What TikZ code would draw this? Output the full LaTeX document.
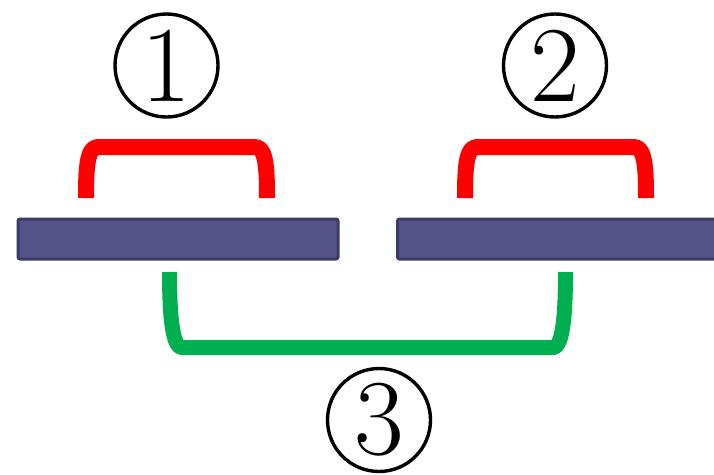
\documentclass[tikz,border=0pt]{standalone}
\begin{document}
\begin{tikzpicture}[x=1pt,y=-1pt,
  plate/.style={draw=plateedge,fill=platefill,line width=3pt,rounded corners=2pt,
    rectangle,minimum height=40pt,inner sep=0pt,anchor=north west},
  redlink/.style={draw=linkred,line width=16pt,line join=round},
  greenlink/.style={draw=linkgreen,line width=15pt,line join=round},
  marker/.style={circle,draw=black,line width=3.4pt,minimum size=103pt,inner sep=0pt,
    font=\fontsize{108}{108}\selectfont}]
\definecolor{platefill}{HTML}{545488}
\definecolor{plateedge}{HTML}{3C3A66}
\definecolor{linkred}{HTML}{FF0000}
\definecolor{linkgreen}{HTML}{00B050}
\useasboundingbox (0,0) rectangle (714,474);
\clip (0,0) rectangle (714,474);

% the two plates
\node[plate,minimum width=320pt] (bar1) at (16.5,217.5) {};
\node[plate,minimum width=330pt] (bar2) at (396,217.5) {};

% red links above each plate
\coordinate (r1a) at (86,198);
\coordinate (r1b) at (267,198);
\coordinate (r2a) at (465,198);
\coordinate (r2b) at (646,198);
\draw[redlink] (r1a) .. controls (86,168) and (87,147) .. (98,147) -- (255,147)
  .. controls (266,147) and (267,168) .. (r1b);
\draw[redlink] (r2a) .. controls (465,168) and (466,147) .. (477,147) -- (634,147)
  .. controls (645,147) and (646,168) .. (r2b);

% green link below, joining both plates
\coordinate (g1) at (169.5,272);
\coordinate (g2) at (565.5,272);
\draw[greenlink] (g1) .. controls (169.5,305) and (171,347.5) .. (182,347.5) -- (553,347.5)
  .. controls (564,347.5) and (565.5,305) .. (g2);

% circled labels
\node[marker] (m1) at (166.5,65.5) {\raisebox{-1pt}{1}};
\node[marker] (m2) at (555,65.5) {\raisebox{-1pt}{2}};
\node[marker] (m3) at (379,420) {\raisebox{-1pt}{3}};
\end{tikzpicture}
\end{document}
